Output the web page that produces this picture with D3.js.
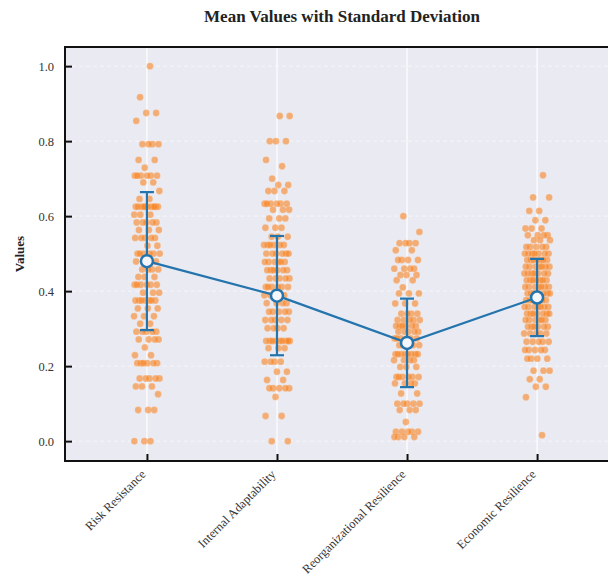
<!DOCTYPE html>
<html>
<head>
<meta charset="utf-8">
<script src="https://d3js.org/d3.v7.min.js"></script>
<style>
  body { margin: 0; background: #fff; }
  svg { display: block; font-family: "Liberation Serif", "Times New Roman", serif; }
</style>
</head>
<body>
<div id="chart"></div>
<script>
// categories + values
var categories = ["Risk Resistance", "Internal Adaptability", "Reorganizational Resilience", "Economic Resilience"];

var riskResistance = [1.0, 0.917, 0.875, 0.875, 0.854,
    0.792, 0.792, 0.792, 0.792, 0.75, 0.75, 0.729,
    0.708, 0.708, 0.708, 0.708, 0.708, 0.708, 0.69, 0.69, 0.667, 0.646, 0.646,
    0.625, 0.625, 0.625, 0.625, 0.625, 0.625, 0.625, 0.625, 0.625, 0.625,
    0.604, 0.604, 0.604, 0.583, 0.583, 0.583, 0.583, 0.583, 0.563, 0.563, 0.563,
    0.542, 0.542, 0.542, 0.542, 0.542, 0.521, 0.521,
    0.5, 0.5, 0.5, 0.5, 0.5, 0.5, 0.479, 0.479, 0.479, 0.458, 0.458, 0.458, 0.458,
    0.438, 0.438, 0.438, 0.417, 0.417, 0.417, 0.417, 0.417, 0.417, 0.396, 0.396, 0.396,
    0.375, 0.375, 0.375, 0.375, 0.375, 0.375, 0.375, 0.354, 0.354, 0.354,
    0.333, 0.333, 0.333, 0.313, 0.313, 0.292, 0.292, 0.292, 0.292, 0.292,
    0.271, 0.271, 0.271, 0.271, 0.25, 0.229, 0.229,
    0.208, 0.208, 0.208, 0.208, 0.208, 0.208, 0.167, 0.167, 0.167, 0.167, 0.167,
    0.146, 0.146, 0.146, 0.125, 0.083, 0.083, 0.083, 0.0, 0.0, 0.0];

var internalAdaptability = [0.867, 0.867, 0.8, 0.8, 0.8, 0.75, 0.733, 0.7, 0.683, 0.683,
    0.667, 0.667, 0.667, 0.633, 0.633, 0.633, 0.633, 0.633, 0.633, 0.617, 0.617, 0.617,
    0.594, 0.594, 0.594, 0.569, 0.569, 0.569, 0.545, 0.545, 0.545,
    0.523, 0.523, 0.523, 0.523, 0.523, 0.523, 0.5, 0.5, 0.5, 0.5, 0.5, 0.5,
    0.478, 0.478, 0.478, 0.478, 0.478, 0.478, 0.456, 0.456, 0.456, 0.456, 0.456, 0.456,
    0.434, 0.434, 0.434, 0.434, 0.434, 0.411, 0.411, 0.411, 0.411, 0.411, 0.411,
    0.389, 0.389, 0.389, 0.389, 0.389, 0.368, 0.368, 0.368, 0.368,
    0.345, 0.345, 0.345, 0.345, 0.345, 0.323, 0.323, 0.323, 0.323, 0.323,
    0.301, 0.301, 0.301, 0.301, 0.267, 0.267, 0.267, 0.267, 0.267, 0.267, 0.267, 0.267, 0.267,
    0.248, 0.248, 0.248, 0.212, 0.212, 0.212, 0.212, 0.185, 0.185, 0.163, 0.163,
    0.141, 0.141, 0.141, 0.141, 0.141, 0.118, 0.067, 0.067, 0.0, 0.0];

var reorganizationalResilience = [0.6, 0.558, 0.528, 0.528, 0.528, 0.528, 0.509, 0.509,
    0.483, 0.483, 0.483, 0.483, 0.46, 0.46, 0.46, 0.46, 0.443, 0.443, 0.443, 0.429, 0.429,
    0.41, 0.394, 0.394, 0.394, 0.367, 0.367, 0.367, 0.34, 0.34, 0.34, 0.34,
    0.323, 0.323, 0.323, 0.323, 0.323, 0.307, 0.307, 0.307, 0.307, 0.307, 0.307,
    0.292, 0.292, 0.292, 0.292, 0.292, 0.274, 0.274, 0.274, 0.274, 0.274, 0.274,
    0.256, 0.256, 0.256, 0.256, 0.256, 0.232, 0.232, 0.232, 0.232, 0.232, 0.232, 0.232, 0.232,
    0.216, 0.216, 0.216, 0.216, 0.198, 0.198, 0.198,
    0.171, 0.171, 0.171, 0.171, 0.171, 0.171, 0.154, 0.154, 0.154, 0.154, 0.127, 0.127,
    0.1, 0.1, 0.1, 0.1, 0.1, 0.083, 0.083, 0.083, 0.051,
    0.025, 0.025, 0.025, 0.025, 0.025, 0.011, 0.011, 0.011, 0.011];

var economicResilience = [0.709, 0.65, 0.65, 0.614, 0.614, 0.589, 0.589,
    0.567, 0.567, 0.567, 0.549, 0.549, 0.549, 0.549, 0.536, 0.536, 0.536,
    0.518, 0.518, 0.518, 0.518, 0.518, 0.5, 0.5, 0.5, 0.5, 0.5, 0.5, 0.5,
    0.483, 0.483, 0.483, 0.483, 0.483, 0.483, 0.483, 0.465, 0.465, 0.465, 0.465, 0.465, 0.465, 0.465,
    0.447, 0.447, 0.447, 0.447, 0.447, 0.447, 0.447, 0.429, 0.429, 0.429, 0.429, 0.429, 0.429, 0.429,
    0.411, 0.411, 0.411, 0.411, 0.411, 0.411, 0.411, 0.394, 0.394, 0.394, 0.394, 0.394, 0.394, 0.394,
    0.376, 0.376, 0.376, 0.376, 0.376, 0.376, 0.376, 0.358, 0.358, 0.358, 0.358, 0.358, 0.358, 0.358,
    0.34, 0.34, 0.34, 0.34, 0.34, 0.34, 0.34, 0.323, 0.323, 0.323, 0.323, 0.323, 0.323,
    0.305, 0.305, 0.305, 0.305, 0.305, 0.305, 0.287, 0.287, 0.287, 0.287, 0.287,
    0.265, 0.265, 0.265, 0.265, 0.265, 0.243, 0.243, 0.243, 0.243, 0.243,
    0.22, 0.22, 0.22, 0.22, 0.188, 0.188, 0.188, 0.165, 0.165, 0.145, 0.145, 0.117, 0.016];

var meanValues = [0.48, 0.388, 0.262, 0.383];
var stdValues = [0.184, 0.159, 0.118, 0.103];
var yTicks = [0.0, 0.2, 0.4, 0.6, 0.8, 1.0];

var allSeries = [riskResistance, internalAdaptability, reorganizationalResilience, economicResilience];

var width = 608, height = 575;
var plotL = 65, plotT = 47, plotB = 461, plotR = 619;

var svg = d3.select("#chart").append("svg")
    .attr("width", width)
    .attr("height", height);

var x = d3.scaleLinear().domain([-0.63, 3.63]).range([plotL, plotR]);
var y = d3.scaleLinear().domain([-0.053, 1.051]).range([plotB, plotT]);

// background
svg.append("rect")
    .attr("x", plotL).attr("y", plotT)
    .attr("width", plotR - plotL).attr("height", plotB - plotT)
    .attr("fill", "#eaeaf2");

// grid
svg.selectAll(".hgrid").data(yTicks).enter().append("line")
    .attr("x1", plotL).attr("x2", plotR)
    .attr("y1", function (d) { return y(d); })
    .attr("y2", function (d) { return y(d); })
    .attr("stroke", "#ffffff").attr("stroke-width", 1)
    .attr("stroke-dasharray", "4,3").attr("opacity", 0.6);

svg.selectAll(".vgrid").data(categories).enter().append("line")
    .attr("x1", function (d, i) { return x(i); })
    .attr("x2", function (d, i) { return x(i); })
    .attr("y1", plotT).attr("y2", plotB)
    .attr("stroke", "#ffffff").attr("stroke-width", 1.2);

// strip points, jitter is a fixed quasi-random offset (golden ratio sequence)
var jitter = 0.1;
allSeries.forEach(function (vals, ci) {
    svg.append("g").selectAll("circle").data(vals).enter().append("circle")
        .attr("cx", function (d, i) {
            var u = ((i + 1) * 0.6180339887 + ci * 0.37) % 1;
            return x(ci + (u - 0.5) * 2 * jitter);
        })
        .attr("cy", function (d) { return y(d); })
        .attr("r", 3.4)
        .attr("fill", "#f8801a")
        .attr("fill-opacity", 0.58)
        .attr("stroke", "#ffffff")
        .attr("stroke-width", 0.4)
        .attr("stroke-opacity", 0.4);
});

// mean line + error bars
var blue = "#2474ad";
var meanLine = d3.line()
    .x(function (d, i) { return x(i); })
    .y(function (d) { return y(d); });

svg.append("path")
    .attr("d", meanLine(meanValues))
    .attr("fill", "none")
    .attr("stroke", blue)
    .attr("stroke-width", 2.2);

var errG = svg.append("g").selectAll("g").data(meanValues).enter().append("g");
errG.append("line")
    .attr("x1", function (d, i) { return x(i); })
    .attr("x2", function (d, i) { return x(i); })
    .attr("y1", function (d, i) { return y(d + stdValues[i]); })
    .attr("y2", function (d, i) { return y(d - stdValues[i]); })
    .attr("stroke", blue).attr("stroke-width", 2.2);
[1, -1].forEach(function (s) {
    errG.append("line")
        .attr("x1", function (d, i) { return x(i) - 7; })
        .attr("x2", function (d, i) { return x(i) + 7; })
        .attr("y1", function (d, i) { return y(d + s * stdValues[i]); })
        .attr("y2", function (d, i) { return y(d + s * stdValues[i]); })
        .attr("stroke", blue).attr("stroke-width", 2.2);
});
errG.append("circle")
    .attr("cx", function (d, i) { return x(i); })
    .attr("cy", function (d) { return y(d); })
    .attr("r", 6)
    .attr("fill", "#f4f6fb")
    .attr("stroke", blue)
    .attr("stroke-width", 2.5);

// axes
var yAxis = svg.append("g")
    .attr("transform", "translate(" + plotL + ",0)")
    .call(d3.axisLeft(y).tickValues(yTicks).tickFormat(d3.format(".1f")).tickSizeInner(-7).tickSizeOuter(0).tickPadding(11));
var xAxis = svg.append("g")
    .attr("transform", "translate(0," + plotB + ")")
    .call(d3.axisBottom(x).tickValues([0, 1, 2, 3]).tickFormat(function (d) { return categories[d]; })
        .tickSizeInner(-7).tickSizeOuter(0));

[yAxis, xAxis].forEach(function (a) {
    a.select(".domain").remove();
    a.selectAll(".tick line").attr("stroke", "#111").attr("stroke-width", 2);
    a.selectAll("text").attr("fill", "#333").style("font-size", "12.5px")
        .style("font-family", "'Liberation Serif', 'Times New Roman', serif");
});

xAxis.selectAll("text")
    .attr("text-anchor", "end")
    .attr("dy", null)
    .attr("y", 0)
    .attr("transform", "translate(-1,14) rotate(-45)");

// frame
svg.append("rect")
    .attr("x", plotL).attr("y", plotT)
    .attr("width", plotR - plotL).attr("height", plotB - plotT)
    .attr("fill", "none")
    .attr("stroke", "#111")
    .attr("stroke-width", 2);

// labels
svg.append("text")
    .attr("x", (plotL + plotR) / 2).attr("y", 22)
    .attr("text-anchor", "middle")
    .style("font-size", "17px").style("font-weight", "bold")
    .attr("fill", "#222")
    .text("Mean Values with Standard Deviation");

svg.append("text")
    .attr("transform", "translate(24," + ((plotT + plotB) / 2) + ") rotate(-90)")
    .attr("text-anchor", "middle")
    .style("font-size", "13px").style("font-weight", "bold")
    .attr("fill", "#222")
    .text("Values");
</script>
</body>
</html>
